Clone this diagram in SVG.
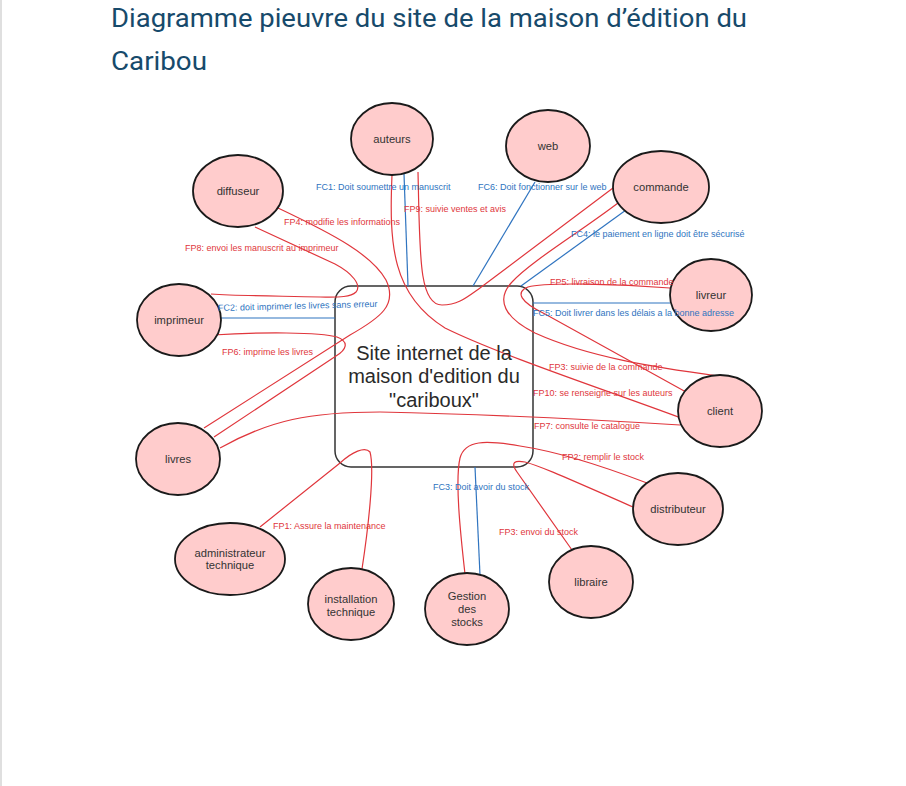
<svg xmlns="http://www.w3.org/2000/svg" width="906" height="786" viewBox="0 0 906 786">
<style>
.title{font-family:Roboto,"Liberation Sans",sans-serif;font-size:26px;fill:#174a6b}
.node ellipse{fill:#ffcccc;stroke:#1a1a1a;stroke-width:1.8}
.node text{font-family:"Liberation Sans",Arial,sans-serif;font-size:11.2px;fill:#333;text-anchor:middle}
.center text{font-family:"Liberation Sans",Arial,sans-serif;font-size:20px;fill:#2a2a2a;text-anchor:middle}
.r{fill:none;stroke:#e0363c;stroke-width:1.2}
.b{fill:none;stroke:#2f74c0;stroke-width:1.2}
.lr{font-family:"Liberation Sans",Arial,sans-serif;font-size:9px;fill:#e0363c}
.lb{font-family:"Liberation Sans",Arial,sans-serif;font-size:9px;fill:#2f74c0}
</style>
<rect width="906" height="786" fill="#fff"/>
<line x1="1" y1="0" x2="1" y2="786" stroke="#d4d4d4" stroke-width="1.5"/>
<text class="title" x="111" y="27" textLength="636" lengthAdjust="spacingAndGlyphs">Diagramme pieuvre du site de la maison d’édition du</text>
<text class="title" x="111" y="70" textLength="96" lengthAdjust="spacingAndGlyphs">Caribou</text>

<g id="site">
<rect x="335" y="286" width="198" height="181" rx="16" fill="none" stroke="#333" stroke-width="1.5"/>
</g>

<g id="connectors">
<path class="b" d="M404,174 L408,286"/>
<path class="b" d="M535,182 L473,286"/>
<path class="b" d="M626,210 L521,286"/>
<path class="b" d="M670,303 L533,303"/>
<path class="b" d="M221,318 L335,318"/>
<path class="b" d="M480,575 L475,467"/>
<path class="r" d="M392,175 C389,245 392,295 445,328 C500,355 600,388 681,418"/>
<path class="r" d="M418,172 C420,250 418,305 442,305 C458,305 466,298 480,288 L613,188"/>
<path class="r" d="M618,203 C580,232 530,262 512,282 C495,300 505,318 535,333 C590,358 660,368 718,376"/>
<path class="r" d="M670,288 C620,284 545,282 528,287 C515,292 520,302 545,314 L686,392"/>
<path class="r" d="M278,208 C335,235 372,255 386,280 C398,305 380,318 350,335 L204,428"/>
<path class="r" d="M255,227 L335,264 C352,273 362,285 356,292 C350,298 335,297 320,297 C280,296 240,296 211,294"/>
<path class="r" d="M213,335 C260,332 320,332 337,337 C350,342 346,350 336,356 L214,437"/>
<path class="r" d="M220,448 C270,420 310,412 380,412 C480,414 600,420 680,425"/>
<path class="r" d="M260,527 L340,463 C352,452 365,446 370,452 C375,470 368,530 362,569"/>
<path class="r" d="M465,574 C460,530 455,480 460,458 C465,440 485,440 520,446 C560,452 600,465 647,483"/>
<path class="r" d="M572,550 L517,472 C510,462 515,460 525,462 C540,466 560,475 633,507"/>
</g>

<g id="auteurs" class="node"><ellipse cx="392" cy="139" rx="41" ry="36"/><text x="392" y="143">auteurs</text></g>
<g id="diffuseur" class="node"><ellipse cx="238" cy="191" rx="45" ry="36"/><text x="238" y="195">diffuseur</text></g>
<g id="web" class="node"><ellipse cx="548" cy="146" rx="42" ry="36"/><text x="548" y="150">web</text></g>
<g id="commande" class="node"><ellipse cx="661" cy="187" rx="48" ry="36"/><text x="661" y="191">commande</text></g>
<g id="livreur" class="node"><ellipse cx="711" cy="295" rx="41" ry="36"/><text x="711" y="299">livreur</text></g>
<g id="client" class="node"><ellipse cx="720" cy="411" rx="42" ry="36"/><text x="720" y="415">client</text></g>
<g id="imprimeur" class="node"><ellipse cx="179" cy="320" rx="42" ry="36"/><text x="179" y="324">imprimeur</text></g>
<g id="livres" class="node"><ellipse cx="178" cy="459" rx="42" ry="36"/><text x="178" y="463">livres</text></g>
<g id="administrateur" class="node"><ellipse cx="230" cy="559" rx="55" ry="36"/><text x="230" y="557">administrateur</text><text x="230" y="569">technique</text></g>
<g id="installation" class="node"><ellipse cx="351" cy="604" rx="43" ry="36"/><text x="351" y="603">installation</text><text x="351" y="616">technique</text></g>
<g id="gestion" class="node"><ellipse cx="467" cy="609" rx="42" ry="36"/><text x="467" y="600">Gestion</text><text x="467" y="613">des</text><text x="467" y="626">stocks</text></g>
<g id="libraire" class="node"><ellipse cx="591" cy="582" rx="42" ry="36"/><text x="591" y="586">libraire</text></g>
<g id="distributeur" class="node"><ellipse cx="678" cy="509" rx="45" ry="36"/><text x="678" y="513">distributeur</text></g>

<g id="labels">
<text class="lb" x="316" y="190">FC1: Doit soumettre un manuscrit</text>
<text class="lb" x="478" y="190">FC6: Doit fonctionner sur le web</text>
<text class="lr" x="404" y="212">FP9: suivie ventes et avis</text>
<text class="lr" x="284" y="225">FP4: modifie les informations</text>
<text class="lr" x="185" y="251">FP8: envoi les manuscrit au imprimeur</text>
<text class="lb" x="571" y="237">FC4: le paiement en ligne doit être sécurisé</text>
<text class="lr" x="550" y="285">FP5: livraison de la commande</text>
<text class="lb" x="533" y="316">FC5: Doit livrer dans les délais a la bonne adresse</text>
<text class="lb" x="218" y="311" transform="rotate(-1.5 218 311)">FC2: doit imprimer les livres sans erreur</text>
<text class="lr" x="222" y="355">FP6: imprime les livres</text>
<text class="lr" x="549" y="370">FP3: suivie de la commande</text>
<text class="lr" x="533" y="396">FP10: se renseigne sur les auteurs</text>
<text class="lr" x="534" y="429">FP7: consulte le catalogue</text>
<text class="lr" x="562" y="460">FP2: remplir le stock</text>
<text class="lb" x="433" y="490">FC3: Doit avoir du stock</text>
<text class="lr" x="499" y="535">FP3: envoi du stock</text>
<text class="lr" x="273" y="529">FP1: Assure la maintenance</text>
</g>

<g id="center" class="center">
<text x="434" y="360">Site internet de la</text>
<text x="434" y="383">maison d'edition du</text>
<text x="434" y="407">"cariboux"</text>
</g>
</svg>
